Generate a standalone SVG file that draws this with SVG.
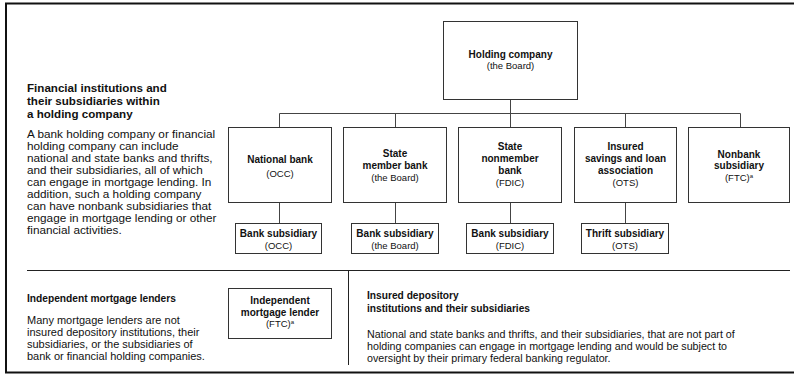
<svg xmlns="http://www.w3.org/2000/svg" width="794" height="379" viewBox="0 0 794 379">
  <style>
    text { font-family: "Liberation Sans", Arial, Helvetica, sans-serif; fill: #111; }
    .hd { font-weight: bold; font-size: 11.6px; }
    .hd2 { font-weight: bold; font-size: 10.2px; }
    .p1 { font-size: 10.8px; }
    .p2 { font-size: 10.8px; }
    .p3 { font-size: 10.7px; }
    .nb { font-weight: bold; font-size: 10px; text-anchor: middle; }
    .nr { font-size: 9.5px; text-anchor: middle; }
    .sup { font-size: 6px; }
    .box { fill: #fff; stroke: #333; stroke-width: 1; }
    .frame { fill: none; stroke: #111; stroke-width: 2; }
    .rule { fill: none; stroke: #222; stroke-width: 1; }
    .link { fill: none; stroke: #444; stroke-width: 1; }
  </style>

  <!-- outer frame: top, left and bottom edges -->
  <path class="frame" d="M794,3.5 H6 V372.5 H794"/>

  <!-- section dividers -->
  <path class="rule" d="M27,270.5 H790"/>
  <path class="rule" d="M348.5,270 V365"/>

  <!-- section texts -->
  <g id="section-holding">
    <text class="hd" x="27" y="92">Financial institutions and</text>
    <text class="hd" x="27" y="105">their subsidiaries within</text>
    <text class="hd" x="27" y="118">a holding company</text>
    <!-- body copy is set slightly wide -->
    <g transform="translate(27,0) scale(1.09,1)">
      <text class="p1" x="0" y="138">A bank holding company or financial</text>
      <text class="p1" x="0" y="150">holding company can include</text>
      <text class="p1" x="0" y="162">national and state banks and thrifts,</text>
      <text class="p1" x="0" y="174">and their subsidiaries, all of which</text>
      <text class="p1" x="0" y="186">can engage in mortgage lending. In</text>
      <text class="p1" x="0" y="198">addition, such a holding company</text>
      <text class="p1" x="0" y="210">can have nonbank subsidiaries that</text>
      <text class="p1" x="0" y="222">engage in mortgage lending or other</text>
      <text class="p1" x="0" y="234">financial activities.</text>
    </g>
  </g>

  <g id="section-independent">
    <text class="hd2" x="27" y="302">Independent mortgage lenders</text>
    <g transform="translate(27,0) scale(1.02,1)">
      <text class="p2" x="0" y="324">Many mortgage lenders are not</text>
      <text class="p2" x="0" y="336">insured depository institutions, their</text>
      <text class="p2" x="0" y="348">subsidiaries, or the subsidiaries of</text>
      <text class="p2" x="0" y="360">bank or financial holding companies.</text>
    </g>
  </g>

  <g id="section-insured">
    <text class="hd2" x="367" y="299">Insured depository</text>
    <text class="hd2" x="367" y="312">institutions and their subsidiaries</text>
    <text class="p3" x="367" y="338">National and state banks and thrifts, and their subsidiaries, that are not part of</text>
    <text class="p3" x="367" y="350">holding companies can engage in mortgage lending and would be subject to</text>
    <text class="p3" x="367" y="362">oversight by their primary federal banking regulator.</text>
  </g>

  <!-- connectors -->
  <g id="connectors">
    <path class="link" d="M510.5,99 V113.5"/>
    <path class="link" d="M279.5,113.5 H740.5"/>
    <path class="link" d="M279.5,113.5 V127 M395.5,113.5 V127 M510.5,113.5 V127 M625.5,113.5 V127 M740.5,113.5 V127"/>
    <path class="link" d="M279.5,202 V223 M395.5,202 V223 M510.5,202 V223 M625.5,202 V223"/>
  </g>

  <!-- nodes -->
  <g id="holding-company">
    <rect class="box" x="443.5" y="21.5" width="134" height="78"/>
    <text class="nb" x="510.5" y="58">Holding company</text>
    <text class="nr" x="510.5" y="69">(the Board)</text>
  </g>

  <g id="national-bank">
    <rect class="box" x="228.5" y="127.5" width="103" height="75"/>
    <text class="nb" x="280" y="163">National bank</text>
    <text class="nr" x="280" y="177">(OCC)</text>
  </g>

  <g id="state-member-bank">
    <rect class="box" x="343.5" y="127.5" width="103" height="75"/>
    <text class="nb" x="395" y="157">State</text>
    <text class="nb" x="395" y="169">member bank</text>
    <text class="nr" x="395" y="181">(the Board)</text>
  </g>

  <g id="state-nonmember-bank">
    <rect class="box" x="458.5" y="127.5" width="103" height="75"/>
    <text class="nb" x="510" y="150">State</text>
    <text class="nb" x="510" y="162">nonmember</text>
    <text class="nb" x="510" y="174">bank</text>
    <text class="nr" x="510" y="186">(FDIC)</text>
  </g>

  <g id="savings-and-loan">
    <rect class="box" x="574.5" y="127.5" width="102" height="75"/>
    <text class="nb" x="625.5" y="150">Insured</text>
    <text class="nb" x="625.5" y="162">savings and loan</text>
    <text class="nb" x="625.5" y="174">association</text>
    <text class="nr" x="625.5" y="186">(OTS)</text>
  </g>

  <g id="nonbank-subsidiary">
    <rect class="box" x="688.5" y="127.5" width="101" height="75"/>
    <text class="nb" x="739" y="158">Nonbank</text>
    <text class="nb" x="739" y="169">subsidiary</text>
    <text class="nr" x="739" y="181">(FTC)<tspan class="sup" dy="-3.5">a</tspan></text>
  </g>

  <g id="bank-subsidiary-occ">
    <rect class="box" x="235.5" y="223.5" width="86" height="30"/>
    <text class="nb" x="278.5" y="237">Bank subsidiary</text>
    <text class="nr" x="278.5" y="248.5">(OCC)</text>
  </g>

  <g id="bank-subsidiary-board">
    <rect class="box" x="351.5" y="223.5" width="87" height="30"/>
    <text class="nb" x="395" y="237">Bank subsidiary</text>
    <text class="nr" x="395" y="248.5">(the Board)</text>
  </g>

  <g id="bank-subsidiary-fdic">
    <rect class="box" x="466.5" y="223.5" width="87" height="30"/>
    <text class="nb" x="510" y="237">Bank subsidiary</text>
    <text class="nr" x="510" y="248.5">(FDIC)</text>
  </g>

  <g id="thrift-subsidiary">
    <rect class="box" x="581.5" y="223.5" width="87" height="30"/>
    <text class="nb" x="625" y="237">Thrift subsidiary</text>
    <text class="nr" x="625" y="248.5">(OTS)</text>
  </g>

  <g id="independent-lender">
    <rect class="box" x="228.5" y="288.5" width="103" height="50"/>
    <text class="nb" x="280" y="304">Independent</text>
    <text class="nb" x="280" y="315.5">mortgage lender</text>
    <text class="nr" x="280" y="327">(FTC)<tspan class="sup" dy="-3.5">a</tspan></text>
  </g>
</svg>
